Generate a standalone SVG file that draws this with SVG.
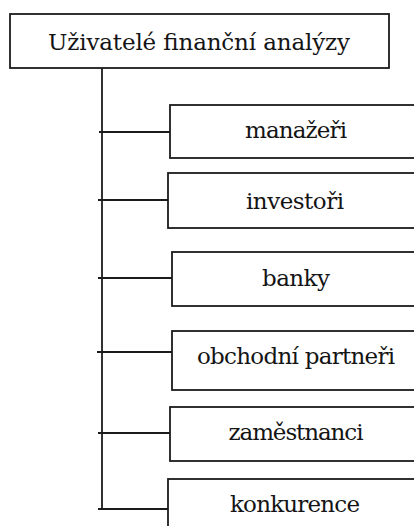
<svg xmlns="http://www.w3.org/2000/svg" width="414" height="526" viewBox="0 0 414 526">
  <style>
    .box { fill: #ffffff; stroke: #1b1b1b; stroke-width: 1.8; }
    .lbl { font-family: 'DejaVu Serif', 'Liberation Serif', serif; font-size: 23px; fill: #141414; text-anchor: middle; }
    .wire { fill: none; stroke: #1b1b1b; stroke-width: 1.8; }
  </style>
  <rect width="414" height="526" fill="#ffffff"/>

  <g id="connectors">
    <path class="wire" d="M102 68 V509"/>
    <path class="wire" d="M99 132 H170"/>
    <path class="wire" d="M98 200 H168"/>
    <path class="wire" d="M98 278 H172"/>
    <path class="wire" d="M97 352 H172"/>
    <path class="wire" d="M98 433 H170"/>
    <path class="wire" d="M98 509 H168"/>
  </g>

  <g id="root">
    <rect class="box" x="10" y="14" width="379" height="54"/>
    <text class="lbl" x="199" y="50" textLength="302" lengthAdjust="spacing">Uživatelé finanční analýzy</text>
  </g>

  <g id="manazeri">
    <rect class="box" x="170" y="105" width="252" height="53"/>
    <text class="lbl" x="296" y="138" textLength="102" lengthAdjust="spacing">manažeři</text>
  </g>

  <g id="investori">
    <rect class="box" x="168" y="173" width="254" height="55"/>
    <text class="lbl" x="295" y="209" textLength="98" lengthAdjust="spacing">investoři</text>
  </g>

  <g id="banky">
    <rect class="box" x="172" y="252" width="250" height="54"/>
    <text class="lbl" x="296" y="286" textLength="68" lengthAdjust="spacing">banky</text>
  </g>

  <g id="obchodni-partneri">
    <rect class="box" x="172" y="331" width="250" height="59"/>
    <text class="lbl" x="296" y="364" textLength="198" lengthAdjust="spacing">obchodní partneři</text>
  </g>

  <g id="zamestnanci">
    <rect class="box" x="170" y="407" width="252" height="54"/>
    <text class="lbl" x="296" y="440" textLength="135" lengthAdjust="spacing">zaměstnanci</text>
  </g>

  <g id="konkurence">
    <rect class="box" x="168" y="479" width="254" height="60"/>
    <text class="lbl" x="295" y="512" textLength="130" lengthAdjust="spacing">konkurence</text>
  </g>
</svg>
